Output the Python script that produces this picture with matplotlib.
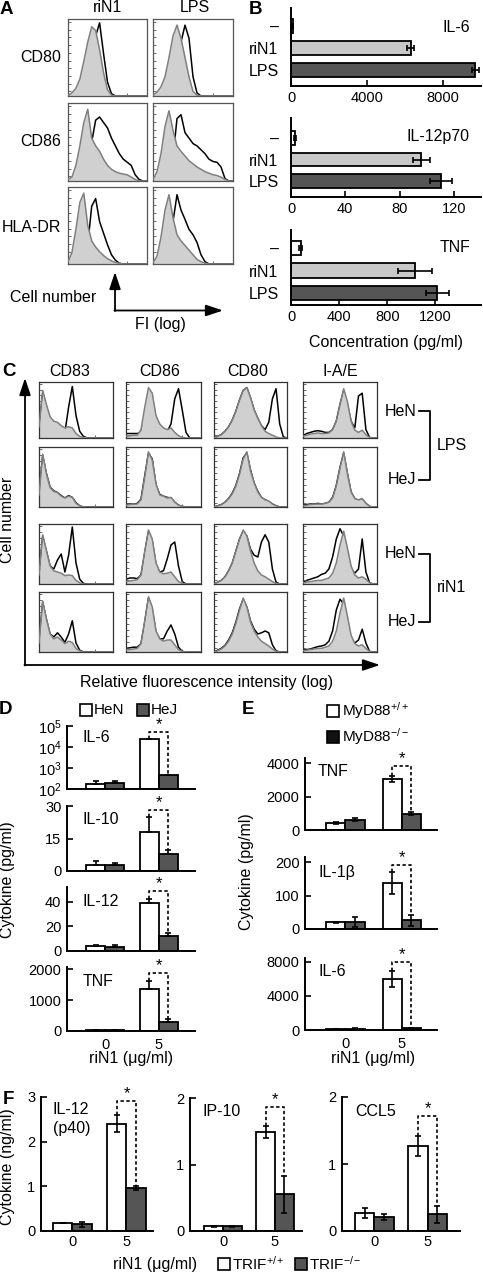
import numpy as np
import matplotlib
matplotlib.use('Agg')
import matplotlib.pyplot as plt
from matplotlib.patches import Rectangle

plt.rcParams['font.family'] = ['Liberation Sans', 'DejaVu Sans']
plt.rcParams['font.size'] = 11.5
plt.rcParams['xtick.labelsize'] = 10.5
plt.rcParams['ytick.labelsize'] = 10.5
plt.rcParams['mathtext.fontset'] = 'custom'
plt.rcParams['mathtext.rm'] = 'Liberation Sans'
plt.rcParams['mathtext.it'] = 'Liberation Sans:italic'
plt.rcParams['mathtext.default'] = 'regular'

# ---------------- data ----------------
fi = np.linspace(0, 4, 21)   # histogram bin centres (decades of fluorescence)

# panel A: flow histograms, rows CD80/CD86/HLA-DR, cols riN1/LPS (percent of max)
a_rows = ['CD80', 'CD86', 'HLA-DR']
a_cols = ['riN1', 'LPS']
a_ctrl = [
    [[1, 4, 10, 22, 45, 70, 90, 85, 60, 30, 8, 1, 0, 0, 0, 0, 0, 0, 0, 0, 0],
     [1, 5, 12, 25, 50, 78, 92, 75, 50, 25, 6, 1, 0, 0, 0, 0, 0, 0, 0, 0, 0]],
    [[2, 5, 20, 45, 75, 92, 55, 45, 38, 28, 20, 15, 12, 10, 9, 8, 5, 2, 0, 0, 0],
     [2, 12, 35, 70, 90, 65, 45, 38, 32, 26, 22, 18, 15, 12, 10, 8, 7, 5, 2, 0, 0]],
    [[3, 15, 45, 80, 92, 50, 30, 22, 16, 11, 7, 4, 2, 1, 0, 0, 0, 0, 0, 0, 0],
     [2, 10, 35, 70, 90, 60, 38, 30, 24, 18, 12, 6, 3, 1, 0, 0, 0, 0, 0, 0, 0]],
]
a_stim = [
    [[0, 1, 2, 5, 12, 30, 55, 78, 95, 55, 18, 3, 0, 0, 0, 0, 0, 0, 0, 0, 0],
     [0, 1, 2, 4, 10, 22, 45, 70, 92, 75, 25, 4, 0, 0, 0, 0, 0, 0, 0, 0, 0]],
    [[0, 0, 0, 1, 3, 12, 50, 78, 82, 75, 68, 55, 45, 35, 28, 24, 20, 8, 2, 0, 0],
     [0, 0, 0, 1, 4, 30, 80, 85, 62, 55, 48, 45, 40, 35, 28, 25, 24, 18, 3, 0, 0]],
    [[0, 0, 0, 0, 3, 25, 75, 85, 55, 40, 25, 12, 5, 1, 0, 0, 0, 0, 0, 0, 0],
     [0, 0, 0, 1, 8, 55, 90, 70, 58, 45, 38, 28, 12, 3, 0, 0, 0, 0, 0, 0, 0]],
]

# panel C: rows HeN-LPS, HeJ-LPS, HeN-riN1, HeJ-riN1; cols CD83/CD86/CD80/I-A/E
c_cols = ['CD83', 'CD86', 'CD80', 'I-A/E']
c_ctrl = [
    [[20, 85, 60, 38, 30, 28, 22, 18, 20, 18, 8, 3, 1, 0, 0, 0, 0, 0, 0, 0, 0],
     [3, 4, 5, 5, 15, 55, 90, 80, 40, 25, 18, 15, 18, 10, 4, 1, 0, 0, 0, 0, 0],
     [0, 3, 6, 12, 20, 32, 48, 68, 85, 90, 72, 50, 35, 22, 12, 8, 5, 2, 0, 0, 0],
     [3, 5, 7, 8, 9, 8, 8, 9, 15, 30, 60, 88, 65, 30, 14, 10, 14, 6, 1, 0, 0]],
    [[20, 88, 55, 32, 26, 24, 18, 15, 18, 16, 6, 2, 0, 0, 0, 0, 0, 0, 0, 0, 0],
     [3, 4, 5, 5, 12, 50, 92, 78, 38, 20, 18, 15, 16, 8, 3, 1, 0, 0, 0, 0, 0],
     [0, 2, 4, 8, 14, 22, 35, 55, 80, 92, 60, 40, 25, 16, 12, 10, 5, 2, 0, 0, 0],
     [2, 3, 4, 5, 5, 5, 6, 8, 15, 35, 65, 92, 55, 25, 14, 12, 14, 6, 1, 0, 0]],
    [[15, 82, 55, 30, 22, 20, 18, 14, 15, 14, 6, 2, 0, 0, 0, 0, 0, 0, 0, 0, 0],
     [4, 5, 6, 7, 15, 55, 90, 75, 35, 20, 17, 18, 20, 12, 4, 1, 0, 0, 0, 0, 0],
     [0, 3, 6, 12, 22, 35, 55, 75, 90, 80, 55, 35, 22, 15, 12, 8, 4, 1, 0, 0, 0],
     [2, 3, 4, 5, 6, 6, 8, 10, 18, 35, 65, 88, 60, 30, 15, 10, 12, 8, 2, 0, 0]],
    [[15, 85, 55, 30, 22, 25, 20, 14, 18, 16, 6, 2, 0, 0, 0, 0, 0, 0, 0, 0, 0],
     [3, 4, 5, 6, 14, 52, 92, 75, 35, 22, 18, 20, 20, 12, 4, 1, 0, 0, 0, 0, 0],
     [0, 2, 5, 10, 18, 30, 48, 70, 90, 75, 50, 35, 25, 18, 14, 10, 5, 1, 0, 0, 0],
     [2, 3, 4, 5, 6, 6, 8, 10, 18, 35, 65, 90, 60, 28, 14, 10, 12, 6, 1, 0, 0]],
]
c_stim = [
    [[15, 80, 55, 32, 25, 22, 18, 10, 55, 92, 40, 12, 3, 0, 0, 0, 0, 0, 0, 0, 0],
     [8, 8, 8, 8, 10, 30, 50, 50, 30, 20, 15, 12, 25, 70, 88, 50, 10, 0, 0, 0, 0],
     [0, 3, 6, 12, 20, 32, 48, 68, 85, 90, 72, 50, 35, 22, 15, 28, 70, 88, 25, 2, 0],
     [4, 8, 10, 12, 13, 12, 10, 10, 15, 30, 60, 85, 60, 30, 18, 75, 80, 15, 1, 0, 0]],
    [[22, 86, 56, 33, 27, 24, 19, 15, 19, 16, 7, 2, 0, 0, 0, 0, 0, 0, 0, 0, 0],
     [4, 5, 5, 6, 13, 52, 90, 80, 37, 21, 18, 16, 15, 8, 3, 1, 0, 0, 0, 0, 0],
     [0, 2, 4, 8, 14, 23, 36, 56, 82, 90, 62, 40, 26, 16, 12, 9, 5, 2, 0, 0, 0],
     [3, 4, 5, 5, 6, 5, 6, 8, 16, 36, 66, 90, 56, 25, 14, 11, 13, 6, 1, 0, 0]],
    [[15, 80, 55, 30, 25, 40, 50, 20, 48, 95, 35, 8, 1, 0, 0, 0, 0, 0, 0, 0, 0],
     [8, 10, 10, 9, 15, 52, 88, 72, 33, 20, 22, 42, 65, 70, 30, 4, 0, 0, 0, 0, 0],
     [0, 3, 6, 12, 22, 35, 55, 75, 88, 80, 58, 48, 45, 70, 82, 70, 25, 3, 0, 0, 0],
     [3, 6, 8, 10, 12, 16, 18, 25, 45, 75, 92, 80, 45, 25, 18, 25, 75, 20, 2, 0, 0]],
    [[15, 83, 55, 30, 25, 32, 25, 16, 30, 52, 15, 3, 0, 0, 0, 0, 0, 0, 0, 0, 0],
     [6, 7, 8, 8, 14, 50, 90, 72, 33, 22, 22, 35, 45, 30, 8, 1, 0, 0, 0, 0, 0],
     [0, 3, 6, 11, 20, 32, 50, 72, 88, 75, 52, 38, 30, 32, 35, 32, 12, 2, 0, 0, 0],
     [3, 4, 5, 7, 9, 10, 12, 18, 35, 70, 88, 80, 45, 22, 15, 20, 38, 15, 1, 0, 0]],
]

# panel B: cytokine concentration (pg/ml)
b_groups = ['\u2013', 'riN1', 'LPS']
b_il6 = [100, 6300, 9700]
b_il6_err = [0, 190, 175]
b_il12 = [2.7, 96, 110.5]
b_il12_err = [0.8, 6.3, 8]
b_tnf = [80, 1030, 1215]
b_tnf_err = [12, 140, 95]

# panel D: HeN vs HeJ, riN1 0 / 5 ug/ml
doses = ['0', '5']
d_il6_hen, d_il6_hen_err = [180, 23400], [50, 0]
d_il6_hej, d_il6_hej_err = [190, 480], [40, 0]
d_il10_hen, d_il10_hen_err = [2.9, 18], [1.6, 6.9]
d_il10_hej, d_il10_hej_err = [2.6, 7.7], [1.2, 1.8]
d_il12_hen, d_il12_hen_err = [4.1, 38.6], [1.1, 3.3]
d_il12_hej, d_il12_hej_err = [3.3, 12], [1.6, 2.7]
d_tnf_hen, d_tnf_hen_err = [30, 1360], [0, 240]
d_tnf_hej, d_tnf_hej_err = [30, 280], [0, 100]
d_sig = [53000, 28, 49, 1870]

# panel E: MyD88+/+ vs MyD88-/-
e_tnf_wt, e_tnf_wt_err = [440, 3050], [60, 180]
e_tnf_ko, e_tnf_ko_err = [620, 960], [100, 90]
e_il1b_wt, e_il1b_wt_err = [20, 137], [2, 32]
e_il1b_ko, e_il1b_ko_err = [20, 26], [15, 17]
e_il6_wt, e_il6_wt_err = [60, 6000], [0, 900]
e_il6_ko, e_il6_ko_err = [150, 250], [60, 0]
e_sig = [3800, 190, 7950]

# panel F: TRIF+/+ vs TRIF-/- (ng/ml)
f_il12_wt, f_il12_wt_err = [0.18, 2.4], [0, 0.19]
f_il12_ko, f_il12_ko_err = [0.15, 0.96], [0.05, 0.05]
f_ip10_wt, f_ip10_wt_err = [0.07, 1.49], [0.01, 0.09]
f_ip10_ko, f_ip10_ko_err = [0.07, 0.55], [0.01, 0.28]
f_ccl5_wt, f_ccl5_wt_err = [0.27, 1.27], [0.07, 0.15]
f_ccl5_ko, f_ccl5_ko_err = [0.21, 0.25], [0.045, 0.125]
f_sig = [2.9, 1.86, 1.71]

# ---------------- figure ----------------
W, H = 483, 1274
fig = plt.figure(figsize=(W / 100, H / 100), dpi=100)
DARK = '#555555'


def px_axes(x0, y0, x1, y1):
    return fig.add_axes([x0 / W, 1 - y1 / H, (x1 - x0) / W, (y1 - y0) / H])


def flow(ax, ctrl, stim):
    ax.plot(fi, stim, color='k', lw=1.1, zorder=1)
    ax.fill_between(fi, 0, ctrl, color='#d0d0d0', lw=0, zorder=2)
    ax.plot(fi, ctrl, color='#7f7f7f', lw=1.1, zorder=3)
    ax.set_xlim(0, 4)
    ax.set_ylim(0, 100)
    ax.set_xticks([1, 2, 3])
    ax.set_yticks(range(6, 100, 10))
    ax.tick_params(direction='in', length=2, width=0.6, colors='#555',
                   labelleft=False, labelbottom=False)
    for s in ax.spines.values():
        s.set_color('#555')
        s.set_linewidth(0.9)


def styled(ax):
    ax.spines['top'].set_visible(False)
    ax.spines['right'].set_visible(False)
    for s in ('left', 'bottom'):
        ax.spines[s].set_linewidth(1.4)


def bar_panel(ax, wt, wt_err, ko, ko_err, sig, w, ko_color, xlim,
              one_sided=False, base=0):
    x = np.arange(2)
    hw = np.array(wt) - base
    hk = np.array(ko) - base
    ax.bar(x - w / 2, hw, w, bottom=base, color='white', edgecolor='k', lw=1.3, zorder=2)
    ax.bar(x + w / 2, hk, w, bottom=base, color=ko_color, edgecolor='k', lw=1.3, zorder=2)
    for xs, v, e in ((x - w / 2, wt, wt_err), (x + w / 2, ko, ko_err)):
        e = np.array(e)
        yerr = [np.zeros_like(e), e] if one_sided else e
        ax.errorbar(xs, v, yerr=yerr, fmt='none', ecolor='k', elinewidth=1.2,
                    capsize=2.5, capthick=1.2, zorder=3)
    xl, xr = 1 - w / 2, 1 + w / 2
    ax.plot([xl, xl, xr, xr], [wt[1] + wt_err[1], sig, sig, ko[1] + ko_err[1]],
            color='k', lw=1.2, ls=(0, (2, 1.5)), zorder=4)
    ax.annotate('*', (1, sig), xytext=(0, 0), textcoords='offset points',
                ha='center', va='bottom', fontsize=12)
    ax.set_xlim(*xlim)
    ax.set_xticks(x)
    ax.set_xticklabels(doses)
    ax.tick_params(axis='x', length=0, pad=5)
    ax.tick_params(axis='y', direction='in', length=4, width=1.2, pad=4)
    styled(ax)


# ---- panel A ----
a_x = [(68, 147), (153, 233)]
a_y = [(19, 96), (103, 181), (187, 264)]
for i in range(3):
    for j in range(2):
        ax = px_axes(a_x[j][0], a_y[i][0], a_x[j][1], a_y[i][1])
        flow(ax, a_ctrl[i][j], a_stim[i][j])

# ---- panel B ----
b_specs = [
    (b_il6, b_il6_err, (291, 8, 481, 86), 10000, [0, 4000, 8000], (2.73, -0.82), 'IL-6', 27),
    (b_il12, b_il12_err, (291, 118, 481, 197), 140, [0, 40, 80, 120], (2.74, -0.93), 'IL-12p70', 137),
    (b_tnf, b_tnf_err, (291, 230, 481, 305), 1580, [0, 400, 800, 1200], (2.53, -0.8), 'TNF', 248),
]
b_axes = []
for vals, errs, box, xmax, ticks, yl, name, ty in b_specs:
    ax = px_axes(*box)
    y = np.arange(3)
    ax.barh(y, vals, height=0.64, color=['white', '#c8c8c8', DARK],
            edgecolor='k', lw=1.3, zorder=2)
    ax.errorbar(vals, y, xerr=errs, fmt='none', ecolor='k', elinewidth=1.2,
                capsize=2, capthick=1.2, zorder=3)
    ax.set_xlim(0, xmax)
    ax.set_ylim(*yl)
    ax.set_yticks(y)
    ax.set_yticklabels(b_groups, fontsize=11.5)
    ax.set_xticks(ticks)
    ax.tick_params(axis='y', length=0, pad=9)
    ax.tick_params(axis='x', direction='in', length=4, width=1.2, pad=3.5)
    styled(ax)
    b_axes.append((ax, name, ty))

# ---- panel C ----
c_x = [(39, 113), (126, 201), (214, 287), (303, 377)]
c_y = [(382, 438), (447, 507), (524, 584), (592, 652)]
for i in range(4):
    for j in range(4):
        ax = px_axes(c_x[j][0], c_y[i][0], c_x[j][1], c_y[i][1])
        flow(ax, c_ctrl[i][j], c_stim[i][j])
        for s in ax.spines.values():
            s.set_color('#333')

# ---- panel D ----
d_xlim = (-0.71, 1.68)
ax = px_axes(67, 726, 195, 789)
ax.set_yscale('log')
bar_panel(ax, d_il6_hen, d_il6_hen_err, d_il6_hej, d_il6_hej_err, d_sig[0],
          0.355, DARK, d_xlim, one_sided=True, base=100)
ax.set_ylim(100, 1e5)
ax.set_yticks([1e2, 1e3, 1e4, 1e5])
ax.set_yticklabels(['10$^2$', '10$^3$', '10$^4$', '10$^5$'])
ax.minorticks_off()
ax.tick_params(axis='x', labelbottom=False)

d_rest = [
    ((67, 806, 195, 871), d_il10_hen, d_il10_hen_err, d_il10_hej, d_il10_hej_err, d_sig[1], 30, [0, 15, 30]),
    ((67, 887, 195, 951), d_il12_hen, d_il12_hen_err, d_il12_hej, d_il12_hej_err, d_sig[2], 52, [0, 20, 40]),
    ((67, 967, 195, 1031), d_tnf_hen, d_tnf_hen_err, d_tnf_hej, d_tnf_hej_err, d_sig[3], 2065, [0, 1000, 2000]),
]
for k, (box, a, ae, b, be, sg, top, ticks) in enumerate(d_rest):
    ax = px_axes(*box)
    bar_panel(ax, a, ae, b, be, sg, 0.355, DARK, d_xlim, one_sided=True)
    ax.set_ylim(0, top)
    ax.set_yticks(ticks)
    if k < 2:
        ax.tick_params(axis='x', labelbottom=False)

# ---- panel E ----
e_xlim = (-0.72, 1.63)
e_specs = [
    ((305, 758, 437, 830), e_tnf_wt, e_tnf_wt_err, e_tnf_ko, e_tnf_ko_err, e_sig[0], 4300, [0, 2000, 4000]),
    ((305, 857, 437, 929), e_il1b_wt, e_il1b_wt_err, e_il1b_ko, e_il1b_ko_err, e_sig[1], 215, [0, 100, 200]),
    ((305, 958, 437, 1030), e_il6_wt, e_il6_wt_err, e_il6_ko, e_il6_ko_err, e_sig[2], 8470, [0, 4000, 8000]),
]
for k, (box, a, ae, b, be, sg, top, ticks) in enumerate(e_specs):
    ax = px_axes(*box)
    bar_panel(ax, a, ae, b, be, sg, 0.34, DARK, e_xlim)
    ax.set_ylim(0, top)
    ax.set_yticks(ticks)
    if k < 2:
        ax.tick_params(axis='x', labelbottom=False)

# ---- panel F ----
f_specs = [
    ((41, 1097, 153, 1231), f_il12_wt, f_il12_wt_err, f_il12_ko, f_il12_ko_err, f_sig[0], 3.0, [0, 1, 2, 3], (-0.58, 1.49)),
    ((190, 1098, 302, 1231), f_ip10_wt, f_ip10_wt_err, f_ip10_ko, f_ip10_ko_err, f_sig[1], 2.0, [0, 1, 2], (-0.635, 1.52)),
    ((342, 1097, 460, 1231), f_ccl5_wt, f_ccl5_wt_err, f_ccl5_ko, f_ccl5_ko_err, f_sig[2], 2.0, [0, 1, 2], (-0.61, 1.61)),
]
for box, a, ae, b, be, sg, top, ticks, xl in f_specs:
    ax = px_axes(*box)
    bar_panel(ax, a, ae, b, be, sg, 0.36, DARK, xl)
    ax.set_ylim(0, top)
    ax.set_yticks(ticks)
    ax.tick_params(axis='x', pad=3)

# ---------------- overlay texts / arrows ----------------
ov = fig.add_axes([0, 0, 1, 1], zorder=10)
ov.set_xlim(0, W)
ov.set_ylim(H, 0)
ov.axis('off')


def T(x, y, s, ha='center', **kw):
    ov.text(x, y, s, ha=ha, va='center', **kw)


def arrow(x0, y0, x1, y1):
    ov.annotate('', xy=(x1, y1), xytext=(x0, y0),
                arrowprops=dict(arrowstyle='-|>,head_length=0.9,head_width=0.3',
                                lw=1.3, color='k', shrinkA=0, shrinkB=0))


def square(x, y, color):
    ov.add_patch(Rectangle((x, y - 6), 12, 12, facecolor=color, edgecolor='k', lw=1.2))


bold = dict(fontsize=13.5, fontweight='bold')
# A
T(6, 9, 'A', **bold)
T(108, 8, a_cols[0])
T(195, 8, a_cols[1])
for name, yc in zip(a_rows, (58, 142, 227)):
    T(61, yc, name, ha='right')
T(53, 297, 'Cell number')
arrow(115, 311, 115, 272)
arrow(114.4, 310.5, 223, 310.5)
T(160, 325, 'FI (log)')
# B
T(256, 9, 'B', **bold)
for ax, name, ty in b_axes:
    T(470, ty, name, ha='right')
T(386, 342, 'Concentration (pg/ml)')
# C
T(9, 372, 'C', **bold)
for name, xc in zip(c_cols, (70, 160, 248, 340)):
    T(xc, 372, name)
arrow(25, 665.5, 25, 378)
arrow(24.4, 665, 380, 665)
T(8, 520, 'Cell number', rotation=90)
T(207, 682, 'Relative fluorescence intensity (log)')
for (yn, yj), grp in (((411, 480), 'LPS'), ((554, 622), 'riN1')):
    T(416, yn, 'HeN', ha='right')
    T(416, yj, 'HeJ', ha='right')
    ov.plot([419, 430, 430, 419], [yn, yn, yj, yj], color='k', lw=1.3)
    T(437, (yn + yj) / 2, grp, ha='left')
# D
T(6, 709, 'D', **bold)
square(80, 710, 'white')
T(94, 710, 'HeN', ha='left', fontsize=11)
square(137, 710, DARK)
T(151, 710, 'HeJ', ha='left', fontsize=11)
for name, yc in zip(('IL-6', 'IL-10', 'IL-12', 'TNF'), (737, 820, 901, 982)):
    T(83, yc, name, ha='left')
T(8, 880, 'Cytokine (pg/ml)', rotation=90)
T(131, 1058, 'riN1 (\u03bcg/ml)')
# E
T(248, 710, 'E', **bold)
square(327, 711, 'white')
T(342, 711, 'MyD88$^{+/+}$', ha='left', fontsize=11)
square(327, 737, '#111111')
T(342, 737, 'MyD88$^{-/-}$', ha='left', fontsize=11)
for name, yc in zip(('TNF', 'IL-1\u03b2', 'IL-6'), (772, 872, 972)):
    T(318, yc, name, ha='left')
T(247, 872, 'Cytokine (pg/ml)', rotation=90)
T(373, 1058, 'riN1 (\u03bcg/ml)')
# F
T(8, 1100, 'F', **bold)
T(53, 1110, 'IL-12', ha='left')
T(53, 1128, '(p40)', ha='left')
T(203, 1112, 'IP-10', ha='left')
T(355, 1112, 'CCL5', ha='left')
T(8, 1167, 'Cytokine (ng/ml)', rotation=90)
T(155, 1264, 'riN1 (\u03bcg/ml)')
square(218, 1264, 'white')
T(232, 1264, 'TRIF$^{+/+}$', ha='left', fontsize=11)
square(295, 1264, DARK)
T(309, 1264, 'TRIF$^{-/-}$', ha='left', fontsize=11)

fig.savefig('out.png', dpi=100)
